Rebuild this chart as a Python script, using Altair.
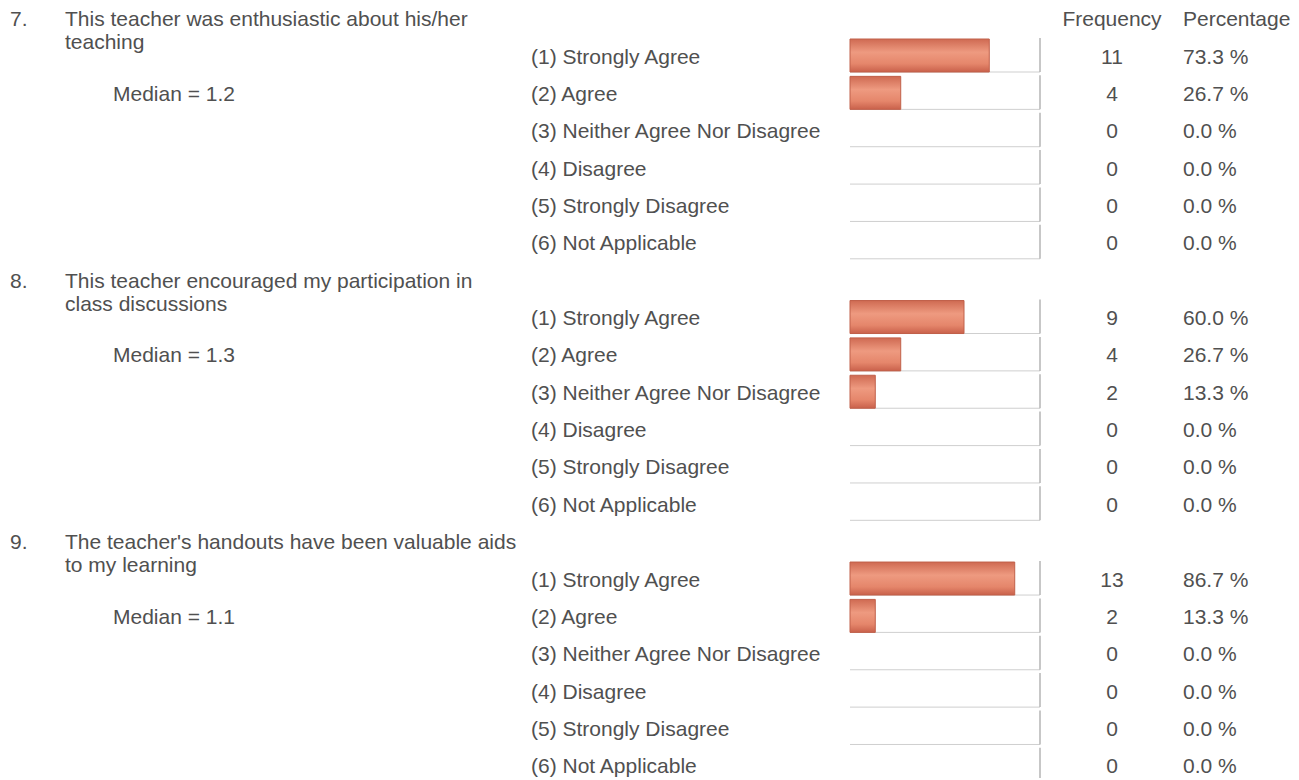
import altair as alt
import pandas as pd

categories = ["(1) Strongly Agree", "(2) Agree", "(3) Neither Agree Nor Disagree",
              "(4) Disagree", "(5) Strongly Disagree", "(6) Not Applicable"]
q_numbers = ["7.", "8.", "9."]
q_line1 = ["This teacher was enthusiastic about his/her",
           "This teacher encouraged my participation in",
           "The teacher's handouts have been valuable aids"]
q_line2 = ["teaching", "class discussions", "to my learning"]
medians = ["1.2", "1.3", "1.1"]
frequency = [[11, 4, 0, 0, 0, 0], [9, 4, 2, 0, 0, 0], [13, 2, 0, 0, 0, 0]]
percentage = [[73.3, 26.7, 0.0, 0.0, 0.0, 0.0],
              [60.0, 26.7, 13.3, 0.0, 0.0, 0.0],
              [86.7, 13.3, 0.0, 0.0, 0.0, 0.0]]

rows = []
for b in range(3):
    for i, c in enumerate(categories):
        rows.append({"row": b * 7 + i, "cat": c, "freq": frequency[b][i],
                     "pct": percentage[b][i], "pct_label": f"{percentage[b][i]:.1f} %",
                     "full": 100})
df = pd.DataFrame(rows)

heads = pd.DataFrame([{"row": b * 7 - 1, "num": q_numbers[b], "l1": q_line1[b],
                       "l2": q_line2[b], "med": f"Median = {medians[b]}", "medrow": b * 7 + 1}
                      for b in range(3)])
colhead = pd.DataFrame([{"row": -1, "f": "Frequency", "p": "Percentage"}])

FONT = "Liberation Sans"
FS = 21
TC = "#505050"
H = 770
ysc = alt.Scale(domain=[-1.285, (8 + H - 56) / 37.36], reverse=True, nice=False, zero=False)
xsc = alt.Scale(domain=[0, 100], range=[842, 1032], nice=False, zero=False)

def Y(f="row"):
    return alt.Y(f"{f}:Q", scale=ysc, axis=None)

base = alt.Chart(df)

grad = alt.Gradient(gradient="linear", x1=0, y1=0, x2=0, y2=1,
                    stops=[alt.GradientStop(color="#cf6a52", offset=0),
                           alt.GradientStop(color="#ee9a80", offset=0.4),
                           alt.GradientStop(color="#e5866b", offset=0.75),
                           alt.GradientStop(color="#c9614b", offset=1)])

bottom = base.mark_rule(color="#cfcfcf", strokeWidth=1, yOffset=16).encode(
    x=alt.X("zero:Q", scale=xsc, axis=None), x2="full:Q", y=Y()
).transform_calculate(zero="0")
vline = base.mark_rule(color="#b5b5b5", strokeWidth=1.5, yOffset=-18, y2Offset=16).encode(
    x=alt.X("full:Q", scale=xsc, axis=None), y=Y(), y2="row:Q")
bars = base.transform_filter("datum.pct > 0").transform_calculate(zero="0").mark_rect(
    color=grad, stroke="#c0604a", strokeWidth=1, yOffset=-17, y2Offset=16).encode(
    x=alt.X("zero:Q", scale=xsc, axis=None), x2="pct:Q", y=Y(), y2="row:Q")

txt = dict(font=FONT, fontSize=FS, color=TC, baseline="middle")
catt = base.mark_text(align="left", dy=1.5, **txt).encode(x=alt.value(523), y=Y(), text="cat:N")
freqt = base.mark_text(align="center", dy=1.5, **txt).encode(x=alt.value(1104), y=Y(), text="freq:Q")
pctt = base.mark_text(align="left", dy=1.5, **txt).encode(x=alt.value(1175), y=Y(), text="pct_label:N")

hb = alt.Chart(heads)
numt = hb.mark_text(align="left", dy=1.5, **txt).encode(x=alt.value(2), y=Y(), text="num:N")
l1t = hb.mark_text(align="left", dy=1.5, **txt).encode(x=alt.value(57), y=Y(), text="l1:N")
l2t = hb.mark_text(align="left", dy=24.5, **txt).encode(x=alt.value(57), y=Y(), text="l2:N")
medt = hb.mark_text(align="left", dy=1.5, **txt).encode(x=alt.value(105), y=Y("medrow"), text="med:N")

ch = alt.Chart(colhead)
fh = ch.mark_text(align="center", dy=1.5, **txt).encode(x=alt.value(1104), y=Y(), text="f:N")
ph = ch.mark_text(align="left", dy=1.5, **txt).encode(x=alt.value(1175), y=Y(), text="p:N")

chart = alt.layer(bottom, vline, bars, catt, freqt, pctt, numt, l1t, l2t, medt, fh, ph).properties(
    width=1283, height=H, padding=0, background="white",
    autosize=alt.AutoSizeParams(type="none")
).configure_view(stroke=None)

chart.save("out.html", embed_options={"renderer": "svg", "actions": False})
